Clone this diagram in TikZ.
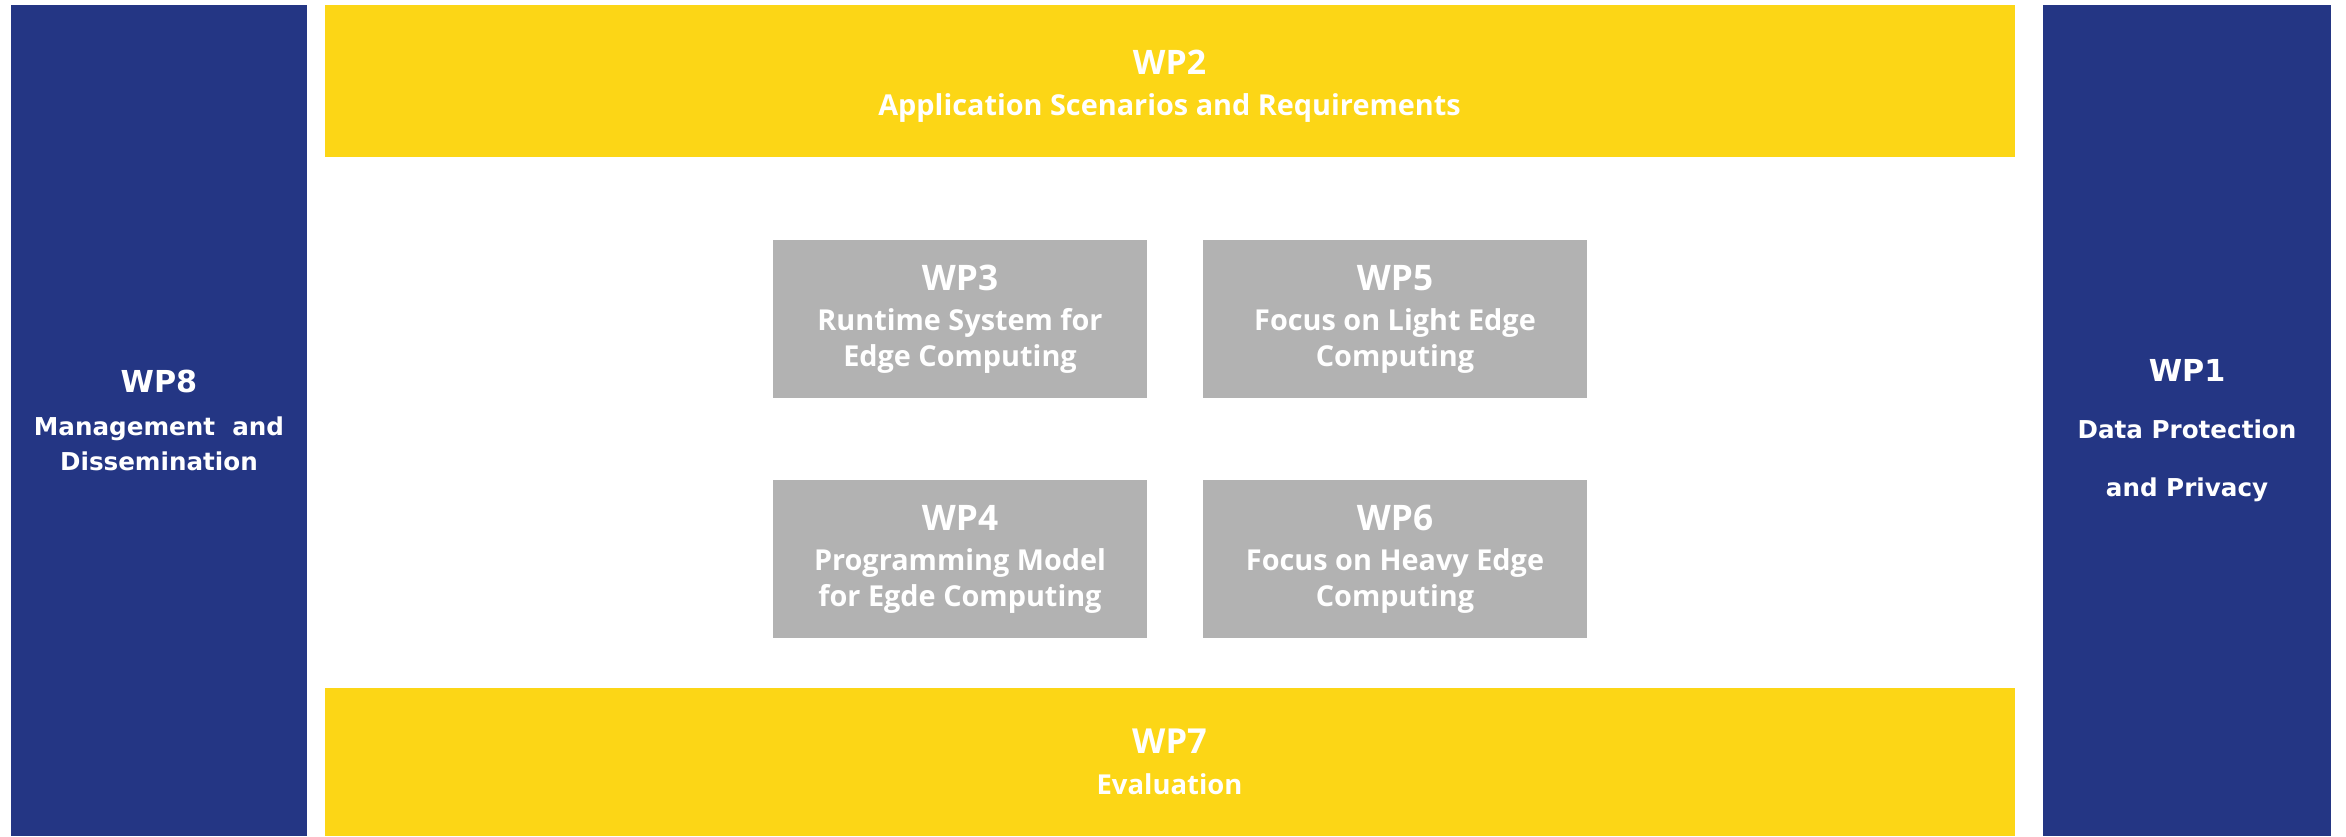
\documentclass[tikz,border=0pt]{standalone}
\usepackage{fontspec}
\setmainfont{Open Sans}
\newfontfamily\bluefont{DejaVu Sans}
\definecolor{wpblue}{HTML}{243684}
\definecolor{wpyellow}{HTML}{FCD616}
\definecolor{wpgray}{HTML}{B2B2B2}
\begin{document}
\begin{tikzpicture}[x=0.01cm,y=-0.01cm,
  base/.style={inner sep=0pt, outer sep=0pt, text=white, align=center},
  bluebox/.style={base, fill=wpblue, minimum width=2.96cm, minimum height=8.31cm},
  bluebox2/.style={base, fill=wpblue, minimum width=2.88cm, minimum height=8.31cm},
  yellowbox/.style={base, fill=wpyellow, minimum width=16.89cm},
  graybox/.style={base, fill=wpgray, minimum height=1.58cm},
  gfont/.style={font=\bfseries\fontsize{8.2}{10.2}\selectfont}
]
\useasboundingbox (0,0) rectangle (2346,836);
% blue side columns
\node[bluebox, font=\bluefont\bfseries\fontsize{7}{10}\selectfont] (wp8) at (159,420.5)
  {{\fontsize{8.6}{10}\selectfont WP8}\\[2pt]Management\ \ and\\Dissemination};
\node[bluebox2] (wp1) at (2187,420.5) {};
\node[base, font=\bluefont\bfseries\fontsize{7}{16.3}\selectfont, yshift=-0.1cm] (wp1text) at (wp1.center)
  {{\fontsize{8.6}{10}\selectfont WP1}\\Data Protection\\and Privacy};
% yellow bands
\node[yellowbox, minimum height=1.52cm] (wp2) at (1169.5,81) {};
\node[base, font=\bfseries\fontsize{8.2}{11.7}\selectfont, yshift=-0.05cm] (wp2text) at (wp2.center)
  {{\fontsize{9.6}{10}\selectfont WP2}\\Application Scenarios and Requirements};
\node[yellowbox, minimum height=1.48cm, font=\bfseries\fontsize{7.8}{11.7}\selectfont] (wp7) at (1169.5,762)
  {{\fontsize{9.8}{10}\selectfont WP7}\\Evaluation};
% gray boxes
\node[graybox, minimum width=3.74cm, gfont] (wp3) at (960,319)
  {{\fontsize{10}{10}\selectfont WP3}\\[1.2pt]Runtime System for\\Edge Computing};
\node[graybox, minimum width=3.84cm, gfont] (wp5) at (1395,319)
  {{\fontsize{10}{10}\selectfont WP5}\\[1.2pt]Focus on Light Edge\\Computing};
\node[graybox, minimum width=3.74cm, gfont] (wp4) at (960,559)
  {{\fontsize{10}{10}\selectfont WP4}\\[1.2pt]Programming Model\\for Egde Computing};
\node[graybox, minimum width=3.84cm, gfont] (wp6) at (1395,559)
  {{\fontsize{10}{10}\selectfont WP6}\\[1.2pt]Focus on Heavy Edge\\Computing};
\end{tikzpicture}
\end{document}
